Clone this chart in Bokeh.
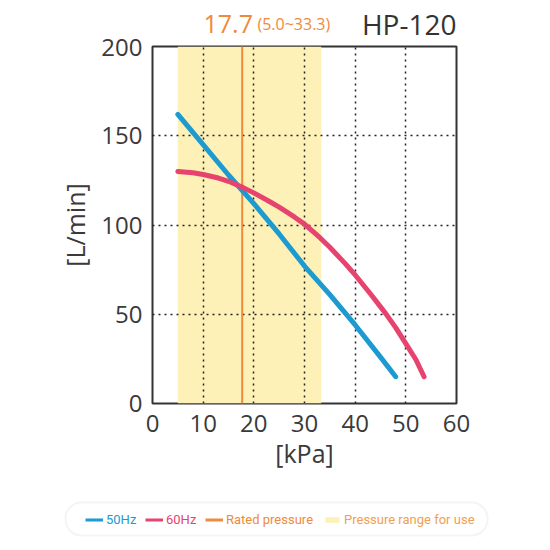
from bokeh.plotting import figure
from bokeh.layouts import column
from bokeh.models import BoxAnnotation, Span, Label, Legend, LegendItem, FixedTicker
from bokeh.embed import file_html
from bokeh.resources import INLINE

# data
pressure_50 = [5, 10, 15, 20, 25, 30, 35, 40, 45, 48]
flow_50 = [162, 145, 128, 112, 95, 77, 61, 44, 26, 15]
pressure_60 = [5, 8, 10, 13, 15, 18, 20, 23, 25, 28, 30, 33, 35, 38, 40, 43, 46, 48, 50, 52, 53.6]
flow_60 = [130, 129.3, 128.3, 126.3, 124.5, 120.8, 118, 113.3, 110, 104.5, 100.5, 93, 87.5,
           78.5, 72, 61.5, 50.5, 42.5, 33.5, 24.5, 15]
rated_pressure = 17.7
range_low = 5.0
range_high = 33.3
x_ticks = [0, 10, 20, 30, 40, 50, 60]
y_ticks = [0, 50, 100, 150, 200]
model_name = "HP-120"
legend_labels = ["50Hz", "60Hz", "Rated pressure", "Pressure range for use"]

FONT = "Open Sans"
NARROW = "Roboto"
BLUE = "#1d9bd0"
PINK = "#e6436f"
ORANGE = "#ef8a3c"
YELLOW = "#fdf1b8"


def blank_figure(h):
    f = figure(width=550, height=h, x_range=(0, 550), y_range=(0, h),
               x_axis_type=None, y_axis_type=None, min_border=0, frame_align=False,
               output_backend="svg", toolbar_location=None)
    f.outline_line_color = None
    f.xgrid.visible = False
    f.ygrid.visible = False
    f.background_fill_color = "white"
    f.border_fill_color = "white"
    return f


# header line with rated pressure and model name
top = blank_figure(38)
top.add_layout(Label(x=203, y=15, text="%.1f" % rated_pressure, text_font=FONT,
                     text_font_size="25px", text_color=ORANGE, text_baseline="alphabetic"))
top.add_layout(Label(x=257, y=15, text="(%.1f~%.1f)" % (range_low, range_high), text_font=FONT,
                     text_font_size="16px", text_color=ORANGE, text_baseline="alphabetic"))
top.add_layout(Label(x=456, y=15, text=model_name, text_font=FONT, text_align="right",
                     text_font_size="28px", text_color="#333333", text_baseline="alphabetic"))

p = figure(frame_width=304, frame_height=357, x_range=(0, 60), y_range=(0, 200),
           min_border_left=152, min_border_right=94, min_border_top=8, min_border_bottom=87,
           output_backend="svg", toolbar_location=None, x_axis_label="[kPa]", y_axis_label="[L/min]")
p.background_fill_color = "white"
p.border_fill_color = "white"
p.outline_line_color = "#333333"
p.outline_line_width = 2

for ax, ticks in ((p.xaxis, x_ticks), (p.yaxis, y_ticks)):
    ax.ticker = FixedTicker(ticks=ticks)
    ax.axis_line_alpha = 0
    ax.major_tick_line_alpha = 0
    ax.minor_tick_line_alpha = 0
    ax.major_label_text_font = FONT
    ax.major_label_text_font_size = "24px"
    ax.major_label_text_color = "#3a3a3a"
    ax.axis_label_text_font = FONT
    ax.axis_label_text_font_size = "25px"
    ax.axis_label_text_font_style = "normal"
    ax.axis_label_text_color = "#3a3a3a"
p.yaxis.major_label_standoff = 4
p.yaxis.axis_label_standoff = 6
p.xaxis.major_label_standoff = 5
p.xaxis.axis_label_standoff = 1

for g in (p.xgrid, p.ygrid):
    g.grid_line_color = "#222222"
    g.grid_line_width = 1.5
    g.grid_line_dash = "2 4"
    g.level = "underlay"

band = p.quad(left=[range_low], right=[range_high], bottom=[0], top=[200],
              fill_color=YELLOW, line_alpha=0)
band.level = "image"

rated = Span(location=rated_pressure, dimension="height", line_color=ORANGE, line_width=2, level="underlay")
p.add_layout(rated)

p.line(pressure_50, flow_50, line_color=BLUE, line_width=5, line_cap="round", line_join="round")
p.line(pressure_60, flow_60, line_color=PINK, line_width=5, line_cap="round", line_join="round")

# legend strip below the chart
leg = blank_figure(55)
leg.add_layout(BoxAnnotation(left=65, right=487, top=43, bottom=10,
                             fill_color="white", fill_alpha=1, line_color="#dadada", line_width=2,
                             border_radius=16, level="underlay"))
# one-point stand-ins: nothing shows in the strip, only their legend keys
k50 = leg.line([0], [0], line_color=BLUE, line_width=3)
k60 = leg.line([0], [0], line_color=PINK, line_width=3)
krated = leg.line([0], [0], line_color=ORANGE, line_width=3)
kband = leg.quad(left=[0], right=[0], bottom=[0], top=[0], fill_color=YELLOW, line_alpha=0)

entries = [(k50, BLUE, 85), (k60, PINK, 145), (krated, ORANGE, 205), (kband, "#f0a050", 323)]
for (rend, col, xpos), lab in zip(entries, legend_labels):
    lg = Legend(items=[LegendItem(label=lab, renderers=[rend])], location=(xpos, 18),
                orientation="horizontal", padding=0, margin=0, spacing=0,
                glyph_width=18, glyph_height=7, label_standoff=3,
                label_text_font=NARROW, label_text_font_size="13px", label_text_color=col,
                border_line_alpha=0, background_fill_alpha=0)
    leg.add_layout(lg, "center")

open("out.html", "w").write(file_html(column(top, p, leg, spacing=0), INLINE))
